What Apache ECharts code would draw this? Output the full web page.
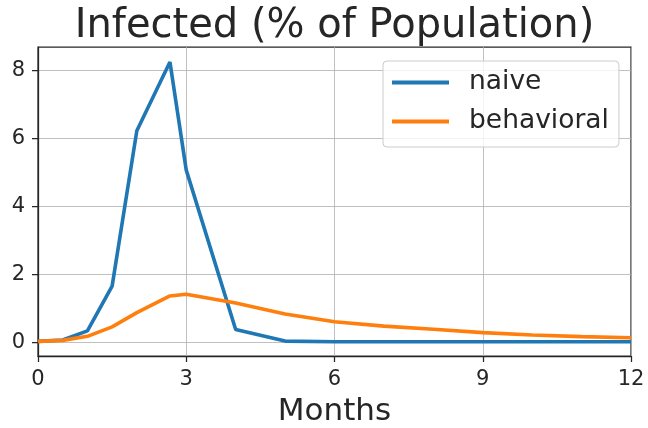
<!DOCTYPE html>
<html>
<head>
<meta charset="utf-8">
<script src="https://cdn.jsdelivr.net/npm/echarts@6/dist/echarts.min.js"></script>
<style>html,body{margin:0;padding:0;background:#fff}#c{width:648px;height:428px}</style>
</head>
<body>
<div id="c"></div>
<script>
var months = [0, 0.5, 1, 1.5, 2, 2.67, 3, 4, 5, 6, 7, 8, 9, 10, 11, 12];
var naive = [0.02, 0.06, 0.33, 1.65, 6.23, 8.26, 5.07, 0.37, 0.03, 0.01, 0.01, 0.01, 0.01, 0.01, 0.01, 0.01];
var behavioral = [0.02, 0.05, 0.17, 0.45, 0.87, 1.36, 1.41, 1.15, 0.83, 0.6, 0.47, 0.38, 0.28, 0.21, 0.16, 0.13];
var yTicks = [0, 2, 4, 6, 8];
var xTicks = [0, 3, 6, 9, 12];

function pairs(xs, ys) { return xs.map(function (x, i) { return [x, ys[i]]; }); }

var FONT = 'DejaVu Sans';
var TXT = '#262626';
var chart = echarts.init(document.getElementById('c'), null, {renderer: 'canvas'});
chart.setOption({
  animation: false,
  backgroundColor: '#ffffff',
  textStyle: {fontFamily: FONT, color: TXT},
  title: {
    text: 'Infected (% of Population)',
    left: 334.5, top: 7, padding: 0, textAlign: 'center',
    textStyle: {fontFamily: FONT, fontSize: 40, fontWeight: 'normal', color: TXT}
  },
  legend: {
    orient: 'vertical', left: 383, top: 61,
    padding: [6, 10, 10, 9], itemGap: 8,
    itemWidth: 57, itemHeight: 4,
    backgroundColor: 'rgba(255,255,255,0.8)',
    borderColor: '#cccccc', borderWidth: 1, borderRadius: 4,
    data: [{name: 'naive', icon: 'rect'}, {name: 'behavioral', icon: 'rect'}],
    textStyle: {fontFamily: FONT, fontSize: 26.5, lineHeight: 31, color: TXT, padding: [0, 0, 0, 15]}
  },
  grid: {
    left: 38, right: 17, top: 47, bottom: 72,
    outerBoundsMode: 'none', containLabel: false,
    show: true, borderColor: TXT, borderWidth: 1.25, backgroundColor: 'transparent'
  },
  xAxis: {
    type: 'value', min: 0, max: 12, interval: 3,
    name: 'Months', nameLocation: 'middle', nameGap: 40,
    nameTextStyle: {fontFamily: FONT, fontSize: 31, color: TXT},
    axisLine: {show: true, onZero: false, lineStyle: {color: TXT, width: 1.25}},
    axisTick: {show: true, length: 6, lineStyle: {color: TXT, width: 1.25}},
    axisLabel: {margin: 13, fontFamily: FONT, fontSize: 21, color: TXT,
      customValues: xTicks},
    splitLine: {show: true, lineStyle: {color: '#b0b0b0', width: 0.8}}
  },
  yAxis: {
    type: 'value', min: -0.41, max: 8.7,
    axisLine: {show: true, onZero: false, lineStyle: {color: TXT, width: 1.25}},
    axisTick: {show: true, length: 6, lineStyle: {color: TXT, width: 1.25}, customValues: yTicks},
    axisLabel: {margin: 13, fontFamily: FONT, fontSize: 21, color: TXT, customValues: yTicks},
    splitLine: {show: true, lineStyle: {color: '#b0b0b0', width: 0.8}}
  },
  series: [
    {name: 'naive', type: 'line', data: pairs(months, naive), showSymbol: false, symbol: 'none',
      color: '#1f77b4', lineStyle: {width: 3.6, color: '#1f77b4'}},
    {name: 'behavioral', type: 'line', data: pairs(months, behavioral), showSymbol: false, symbol: 'none',
      color: '#ff7f0e', lineStyle: {width: 3.6, color: '#ff7f0e'}}
  ]
});
</script>
</body>
</html>
